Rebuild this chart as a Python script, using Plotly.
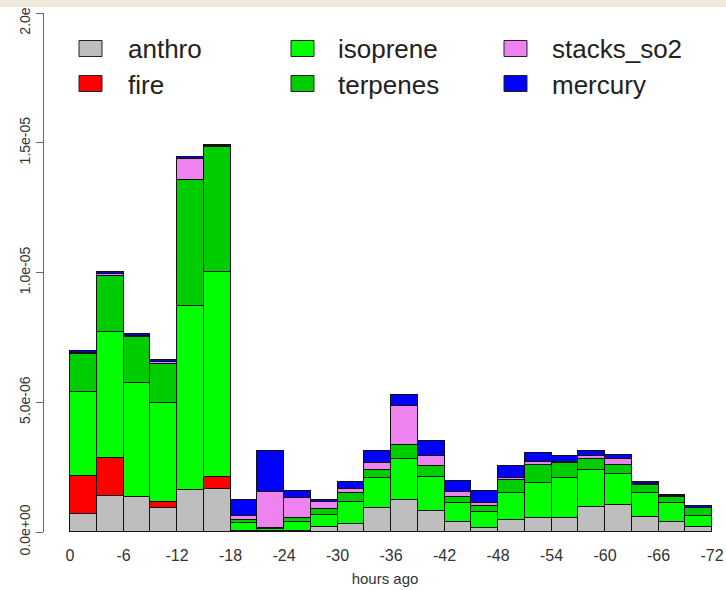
import plotly.graph_objects as go

# ---- data (units: 1e-6) ----
hours_start = [0, -3, -6, -9, -12, -15, -18, -21, -24, -27, -30, -33,
               -36, -39, -42, -45, -48, -51, -54, -57, -60, -63, -66, -69]
anthro = [0.70, 1.40, 1.33, 0.94, 1.62, 1.64, 0.05, 0.05, 0.05, 0.18, 0.30, 0.94,
          1.23, 0.82, 0.40, 0.14, 0.46, 0.53, 0.53, 0.95, 1.03, 0.59, 0.40, 0.18]
fire = [1.45, 1.46, 0.03, 0.21, 0.00, 0.49, 0.00, 0.00, 0.00, 0.00, 0.00, 0.00,
        0.00, 0.00, 0.00, 0.00, 0.00, 0.00, 0.00, 0.00, 0.00, 0.00, 0.00, 0.00]
isoprene = [3.25, 4.84, 4.38, 3.82, 7.07, 7.88, 0.28, 0.05, 0.35, 0.47, 0.87, 1.15,
            1.60, 1.31, 0.73, 0.62, 1.05, 1.37, 1.54, 1.43, 1.20, 0.92, 0.70, 0.45]
terpenes = [1.47, 2.18, 1.77, 1.52, 4.89, 4.84, 0.13, 0.05, 0.15, 0.22, 0.32, 0.29,
            0.52, 0.42, 0.20, 0.24, 0.49, 0.68, 0.57, 0.42, 0.35, 0.30, 0.26, 0.28]
stacks_so2 = [0.04, 0.07, 0.03, 0.08, 0.79, 0.03, 0.17, 1.38, 0.77, 0.30, 0.15, 0.29,
              1.50, 0.37, 0.22, 0.10, 0.10, 0.11, 0.06, 0.12, 0.22, 0.03, 0.02, 0.03]
mercury = [0.05, 0.06, 0.10, 0.07, 0.09, 0.04, 0.60, 1.59, 0.27, 0.06, 0.27, 0.45,
           0.42, 0.59, 0.42, 0.48, 0.45, 0.36, 0.22, 0.20, 0.16, 0.07, 0.04, 0.07]
series_names = ["anthro", "fire", "isoprene", "terpenes", "stacks_so2", "mercury"]
series_values = [anthro, fire, isoprene, terpenes, stacks_so2, mercury]
x_tick_vals = [0, -6, -12, -18, -24, -30, -36, -42, -48, -54, -60, -66, -72]
y_tick_vals = [0, 5e-6, 1e-5, 1.5e-5, 2e-5]
y_tick_text = ["0.0e+00", "5.0e-06", "1.0e-05", "1.5e-05", "2.0e-05"]
scale = 1e-6
bin_width = 3

colors = {"anthro": "#BEBEBE", "fire": "#FF0000", "isoprene": "#00FF00",
          "terpenes": "#00CD00", "stacks_so2": "#EE82EE", "mercury": "#0000FF"}

W, H = 726, 590
ML, MR, MT, MB = 44, 0, 13, 58
PW, PH = W - ML - MR, H - MT - MB
FONT = "Liberation Sans, Arial, sans-serif"

centers = [h - bin_width / 2 for h in hours_start]

fig = go.Figure()
for name, vals in zip(series_names, series_values):
    fig.add_trace(go.Bar(
        x=centers, y=[v * scale for v in vals], width=bin_width, name=name,
        marker=dict(color=colors[name], line=dict(color="#111111", width=1)),
        showlegend=False))

px_per_hour = (712 - 70) / 72.0
left = (70 - ML) / px_per_hour
right = left - PW / px_per_hour


def px(xpx):
    return (xpx - ML) / PW


def py(ypx):
    return (H - MB - ypx) / PH


shapes = []
annotations = []
# top beige strip
shapes.append(dict(type="rect", xref="paper", yref="paper", x0=px(-5), x1=px(W + 5),
                   y0=py(7), y1=py(-5), fillcolor="#EFEBDC", line=dict(width=0),
                   layer="above"))

# manual legend
legend_cols = [(79, 126), (291, 336), (504, 550)]
legend_rows = [48.5, 83.5]
legend_layout = [["anthro", "fire"], ["isoprene", "terpenes"], ["stacks_so2", "mercury"]]
for ci, col in enumerate(legend_layout):
    sx, tx = legend_cols[ci]
    for ri, name in enumerate(col):
        cy = legend_rows[ri]
        shapes.append(dict(type="rect", xref="paper", yref="paper",
                           x0=px(sx), x1=px(sx + 23), y0=py(cy + 8), y1=py(cy - 8),
                           fillcolor=colors[name], line=dict(color="#222222", width=1)))
        annotations.append(dict(text=name, xref="paper", yref="paper", x=px(tx),
                                y=py(cy + 1), xanchor="left", yanchor="middle",
                                showarrow=False,
                                font=dict(family=FONT, size=26, color="#222222")))

fig.update_layout(
    width=W, height=H, barmode="stack", bargap=0,
    margin=dict(l=ML, r=MR, t=MT, b=MB, autoexpand=False),
    paper_bgcolor="white", plot_bgcolor="white",
    font=dict(family=FONT, color="#333333"),
    shapes=shapes, annotations=annotations,
    xaxis=dict(range=[left, right], tickvals=x_tick_vals,
               ticktext=[str(v) for v in x_tick_vals], automargin=False,
               showgrid=False, zeroline=False, showline=False, ticks="",
               ticklabelstandoff=12, ticklabeloverflow="allow",
               tickfont=dict(size=16, color="#333333"),
               title=dict(text="hours ago", font=dict(size=15, color="#333333"),
                          standoff=10)),
    yaxis=dict(range=[0, 2e-5], tickvals=y_tick_vals, ticktext=y_tick_text,
               tickangle=-90, showgrid=False, zeroline=False, showline=True,
               automargin=False,
               linecolor="#666666", linewidth=1, ticks="outside", ticklen=7,
               ticklabeloverflow="allow",
               tickcolor="#666666", tickfont=dict(size=14, color="#333333")),
)

fig.write_html("out.html", config={"displayModeBar": False},
               post_script="document.body.style.margin='0';document.body.style.overflow='hidden';")
